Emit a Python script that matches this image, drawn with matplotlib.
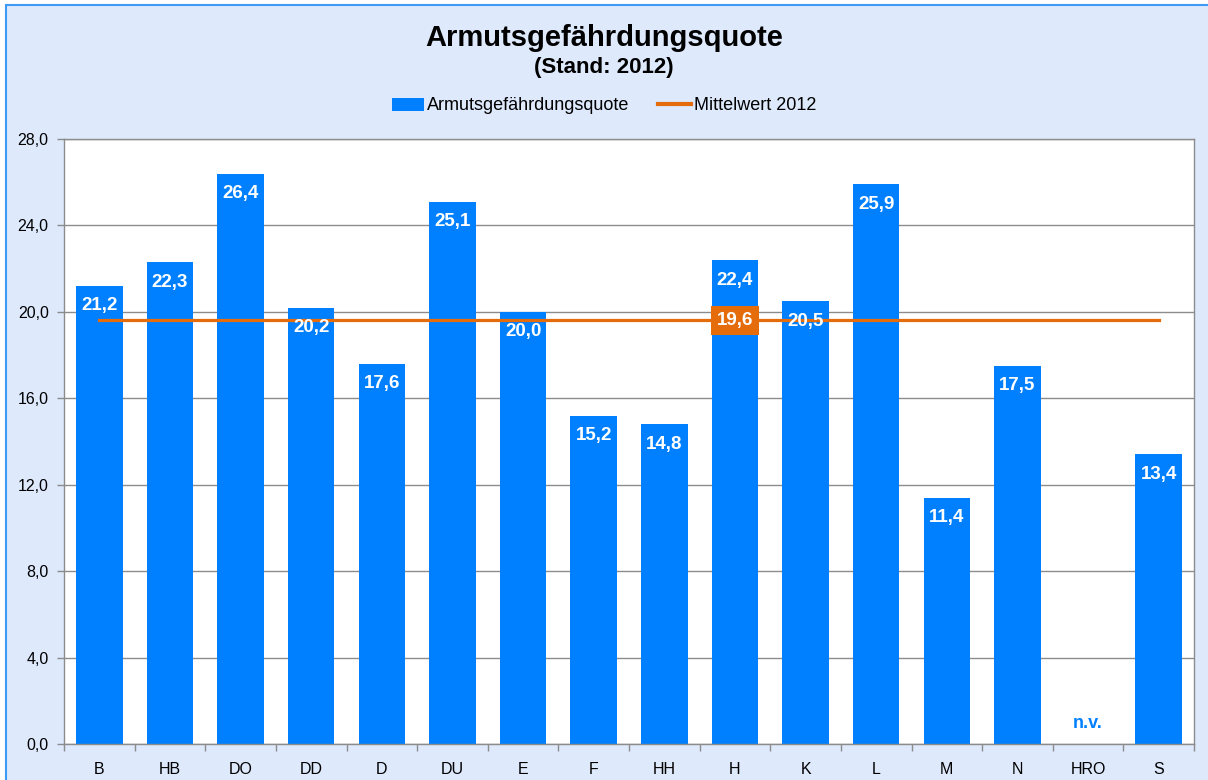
import matplotlib
matplotlib.use("Agg")
import matplotlib.pyplot as plt
import numpy as np
from matplotlib.patches import Rectangle, Patch
from matplotlib.lines import Line2D

plt.rcParams['font.family'] = ['Liberation Sans', 'DejaVu Sans']

categories = ["B", "HB", "DO", "DD", "D", "DU", "E", "F", "HH", "H", "K", "L", "M", "N", "HRO", "S"]
values = [21.2, 22.3, 26.4, 20.2, 17.6, 25.1, 20.0, 15.2, 14.8, 22.4, 20.5, 25.9, 11.4, 17.5, np.nan, 13.4]
mean_value = 19.6
yticks = [0, 4, 8, 12, 16, 20, 24, 28]

bar_color = "#0080FF"
line_color = "#E46C0A"
bg_color = "#DEE9FC"

fig = plt.figure(figsize=(12.08, 7.8), dpi=100, facecolor="white")
fig.patches.append(Rectangle((5.5/1208, -0.1), 1.2, 1 - 5.5/780 + 0.1, transform=fig.transFigure,
                             facecolor=bg_color, edgecolor="#3D9BF5", linewidth=1.5, zorder=-10))

ax = fig.add_axes([64/1208, 1 - 744/780, (1194 - 64)/1208, (744 - 139)/780])
ax.set_facecolor("white")
x = np.arange(len(categories))
vals = np.array(values, dtype=float)
ax.bar(x, np.nan_to_num(vals), width=0.66, color=bar_color, zorder=2)
ax.plot([x[0], x[-1]], [mean_value, mean_value], color=line_color, linewidth=2.3, zorder=3)

ax.set_xlim(-0.5, len(categories) - 0.5)
ax.set_ylim(0, 28)
ax.set_yticks(yticks)
ax.set_yticklabels([f"{v:.1f}".replace(".", ",") for v in yticks], fontsize=11.5)
ax.yaxis.grid(True, color="#8C8C8C", linewidth=1, zorder=0)
ax.set_axisbelow(True)
ax.set_xticks(x)
ax.set_xticklabels(categories, fontsize=11.5)
ax.set_xticks(np.arange(-0.5, len(categories) + 0.5, 1), minor=True)
ax.tick_params(axis="x", which="major", length=0, pad=13)
ax.tick_params(axis="x", which="minor", length=5, color="#8C8C8C", width=1)
ax.tick_params(axis="y", length=5, color="#8C8C8C", width=1, pad=6)
for s in ax.spines.values():
    s.set_color("#8C8C8C")
    s.set_linewidth(1)

for xi, v in zip(x, vals):
    if np.isnan(v):
        ax.annotate("n.v.", (xi, 0), xytext=(0, 21), textcoords="offset pixels",
                    ha="center", va="center", fontsize=13, fontweight="bold", color=bar_color)
    else:
        ax.annotate(f"{v:.1f}".replace(".", ","), (xi, v), xytext=(0, -20), textcoords="offset pixels",
                    ha="center", va="center", fontsize=13.5, fontweight="bold", color="white", zorder=5)

h_idx = categories.index("H")
ax.text(x[h_idx], mean_value, f"{mean_value:.1f}".replace(".", ","), ha="center", va="center",
        fontsize=13.5, fontweight="bold", color="white", zorder=6,
        bbox=dict(boxstyle="square,pad=0.3", facecolor=line_color, edgecolor="none"))

fig.text(0.5, 1 - 38/780, "Armutsgefährdungsquote", ha="center", va="center", fontsize=21, fontweight="bold")
fig.text(0.5, 1 - 67/780, "(Stand: 2012)", ha="center", va="center", fontsize=16, fontweight="bold")

handles = [Patch(facecolor=bar_color, edgecolor="none"),
           Line2D([0], [0], color=line_color, linewidth=3)]
fig.legend(handles, ["Armutsgefährdungsquote", "Mittelwert 2012"], loc="center",
           bbox_to_anchor=(0.5, 1 - 106/780), ncol=2, frameon=False, fontsize=13,
           handlelength=1.8, handletextpad=0.15, columnspacing=1.6, handleheight=0.7)

fig.savefig("out.png", dpi=100, facecolor=fig.get_facecolor())
